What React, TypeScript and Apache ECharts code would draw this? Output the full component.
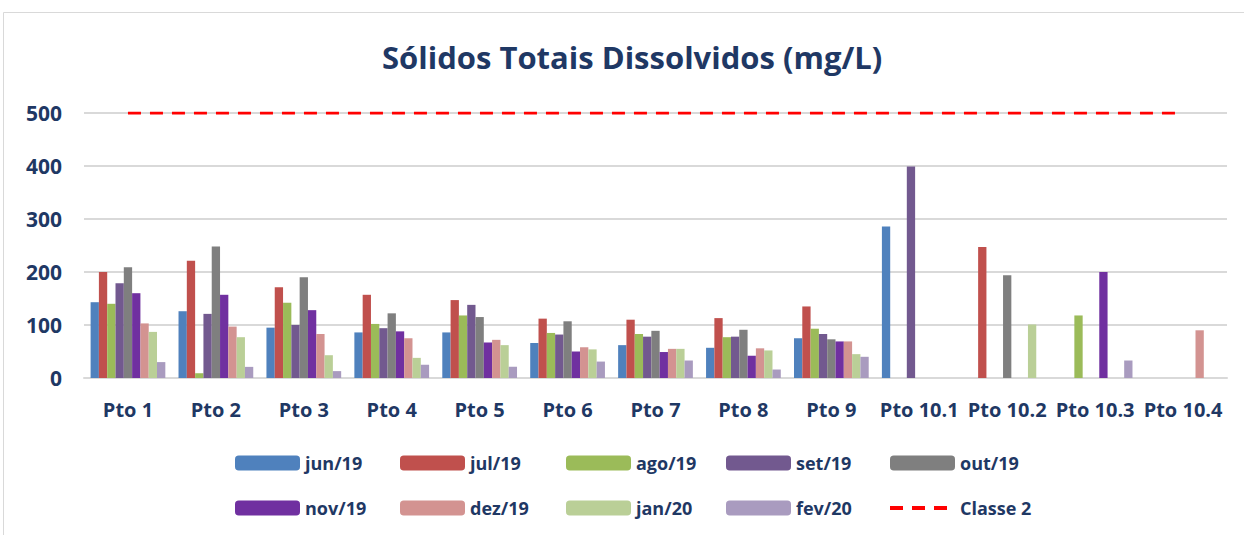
import React, { useEffect, useRef } from "react";
import * as echarts from "echarts";

const categories = ["Pto 1", "Pto 2", "Pto 3", "Pto 4", "Pto 5", "Pto 6", "Pto 7", "Pto 8", "Pto 9", "Pto 10.1", "Pto 10.2", "Pto 10.3", "Pto 10.4"];
const seriesNames = ["jun/19", "jul/19", "ago/19", "set/19", "out/19", "nov/19", "dez/19", "jan/20", "fev/20"];
const colors = ["#4F81BD", "#C0504D", "#9BBB59", "#72598F", "#7F7F7F", "#7030A0", "#D39391", "#BACF97", "#A99BBF"];

const jun19 = [143, 126, 95, 86, 86, 66, 62, 57, 75, 286, null, null, null];
const jul19 = [200, 221, 171, 157, 147, 112, 110, 113, 135, null, 247, null, null];
const ago19 = [140, 9, 142, 102, 118, 85, 83, 77, 93, null, null, 118, null];
const set19 = [179, 121, 100, 94, 138, 82, 78, 78, 83, 399, null, null, null];
const out19 = [209, 248, 190, 122, 115, 107, 89, 91, 73, null, 194, null, null];
const nov19 = [160, 157, 128, 88, 67, 50, 49, 42, 69, null, null, 200, null];
const dez19 = [103, 97, 83, 75, 72, 58, 55, 56, 69, null, null, null, 90];
const jan20 = [87, 77, 43, 38, 62, 54, 55, 52, 45, null, 101, null, null];
const fev20 = [30, 21, 13, 25, 21, 31, 33, 16, 40, null, null, 33, null];
const classe2 = [500, 500, 500, 500, 500, 500, 500, 500, 500, 500, 500, 500, 500];
const yTicks = { min: 0, max: 500, interval: 100 };

const seriesData = [jun19, jul19, ago19, set19, out19, nov19, dez19, jan20, fev20];

const NAVY = "#1F3864";
const FONT = "Open Sans";

export default function App() {
  const ref = useRef<HTMLDivElement>(null);
  useEffect(() => {
    const chart = echarts.init(ref.current!, undefined, { renderer: "svg" });
    const bars = seriesNames.map((name, i) => ({
      name,
      type: "bar",
      data: seriesData[i],
      barGap: "0%",
      barCategoryGap: "15%",
      itemStyle: { color: colors[i] },
    }));
    const columns: any[] = [
      [seriesNames[0], seriesNames[5]],
      [seriesNames[1], seriesNames[6]],
      [seriesNames[2], seriesNames[7]],
      [seriesNames[3], seriesNames[8]],
      [seriesNames[4], { name: "Classe 2", itemStyle: { opacity: 0 } }],
    ];
    const colLeft = [230, 395, 561, 721, 883];
    const legends = columns.map((data, i) => ({
      data,
      orient: "vertical",
      left: colLeft[i],
      top: 449,
      itemWidth: 65,
      itemHeight: 15,
      itemGap: 27,
      lineStyle: { width: 4, type: [13, 9] },
      textStyle: { color: NAVY, fontWeight: "bold", fontSize: 18, fontFamily: FONT },
    }));
    chart.setOption({
      animation: false,
      title: {
        text: "Sólidos Totais Dissolvidos (mg/L)",
        left: 377,
        top: 36,
        textStyle: { color: NAVY, fontWeight: "bold", fontSize: 31, fontFamily: FONT },
      },
      graphic: [
        {
          type: "rect",
          shape: { x: 3.5, y: 12.5, width: 1300, height: 600 },
          style: { fill: "none", stroke: "#D9D9D9", lineWidth: 1 },
          silent: true,
        },
      ],
      legend: legends,
      grid: { left: 84, right: 17, top: 113, bottom: 157 },
      xAxis: {
        type: "category",
        data: categories,
        axisTick: { show: false },
        axisLine: { lineStyle: { color: "#D9D9D9", width: 2 } },
        axisLabel: { color: NAVY, fontWeight: "bold", fontSize: 20, fontFamily: FONT, margin: 21, interval: 0 },
      },
      yAxis: {
        type: "value",
        min: yTicks.min,
        max: yTicks.max,
        interval: yTicks.interval,
        axisLine: { show: false },
        axisTick: { show: false },
        splitLine: { lineStyle: { color: "#D9D9D9", width: 2 } },
        axisLabel: { color: NAVY, fontWeight: "bold", fontSize: 21, fontFamily: FONT, margin: 22 },
      },
      series: [
        ...bars,
        {
          name: "Classe 2",
          type: "line",
          data: classe2,
          symbol: "none",
          itemStyle: { color: "#FF0000" },
          lineStyle: { color: "#FF0000", width: 3, type: [13, 9] },
          z: 5,
        },
      ],
    });
    return () => chart.dispose();
  }, []);
  return <div ref={ref} style={{ position: "absolute", left: 0, top: 0, width: 1244, height: 535 }} />;
}
